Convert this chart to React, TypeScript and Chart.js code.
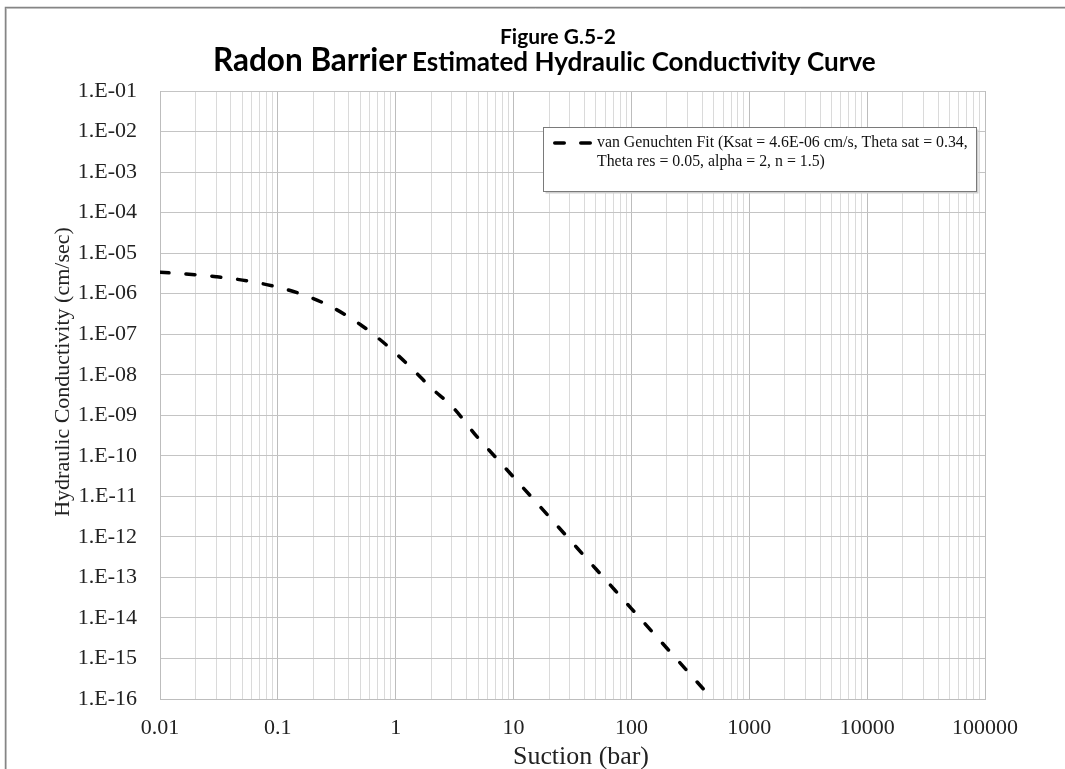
import React, { useEffect, useRef } from "react";
import { Chart, registerables } from "chart.js";

Chart.register(...registerables);

// Suction (bar) and hydraulic conductivity (cm/sec)
const suction = [0.01, 0.02, 0.03, 0.05, 0.1, 0.15, 0.2, 0.3, 0.5, 0.7, 1, 1.5, 2, 3, 5, 7, 10, 20, 50, 100, 200, 500];
const conductivity = [
  3.39e-6, 2.94e-6, 2.62e-6, 2.16e-6, 1.45e-6, 1.03e-6, 7.57e-7, 4.36e-7, 1.74e-7, 8.29e-8, 3.39e-8,
  1.1e-8, 4.73e-9, 1.66e-9, 2.74e-10, 9.36e-11, 2.97e-11, 3.16e-12, 1.61e-13, 1.7e-14, 1.79e-15, 9.09e-17,
];

const xMajorTicks = [0.01, 0.1, 1, 10, 100, 1000, 10000, 100000];
const xTickLabels = ["0.01", "0.1", "1", "10", "100", "1000", "10000", "100000"];
const yMajorTicks = [1e-1, 1e-2, 1e-3, 1e-4, 1e-5, 1e-6, 1e-7, 1e-8, 1e-9, 1e-10, 1e-11, 1e-12, 1e-13, 1e-14, 1e-15, 1e-16];
const yTickLabels = [
  "1.E-01", "1.E-02", "1.E-03", "1.E-04", "1.E-05", "1.E-06", "1.E-07", "1.E-08",
  "1.E-09", "1.E-10", "1.E-11", "1.E-12", "1.E-13", "1.E-14", "1.E-15", "1.E-16",
];

const titleLine1 = "Figure G.5-2";
const titleBold = "Radon Barrier";
const titleRest = "Estimated Hydraulic Conductivity Curve";
const xAxisTitle = "Suction (bar)";
const yAxisTitle = "Hydraulic Conductivity (cm/sec)";
const seriesLabel = "van Genuchten Fit (Ksat = 4.6E-06 cm/s, Theta sat = 0.34, Theta res = 0.05, alpha = 2, n = 1.5)";
const legendLines = ["van Genuchten Fit (Ksat = 4.6E-06 cm/s, Theta sat = 0.34,", "Theta res = 0.05, alpha = 2, n = 1.5)"];

const SERIF = '"Liberation Serif", "Times New Roman", serif';
const SANS = 'Lato, "Open Sans", sans-serif';

const sameLog = (a: number, b: number) => Math.abs(Math.log10(a) - Math.log10(b)) < 1e-6;

// minor grid positions 1..9 per decade
const xAllTicks: number[] = [];
for (let d = 0; d < xMajorTicks.length - 1; d++) {
  for (let k = 1; k <= 9; k++) xAllTicks.push(xMajorTicks[d] * k);
}
xAllTicks.push(xMajorTicks[xMajorTicks.length - 1]);

function fit(ctx: CanvasRenderingContext2D, text: string, weight: string, family: string, target: number) {
  ctx.font = `${weight} 100px ${family}`;
  return (100 * target) / ctx.measureText(text).width;
}

const decorPlugin = {
  id: "decor",
  beforeDraw(chart: any) {
    const { ctx, width, height } = chart;
    ctx.save();
    ctx.fillStyle = "#ffffff";
    ctx.fillRect(0, 0, width, height);
    ctx.restore();
  },
  afterDraw(chart: any) {
    const ctx: CanvasRenderingContext2D = chart.ctx;
    const W = chart.width;
    const H = chart.height;
    ctx.save();
    // outer frame
    ctx.strokeStyle = "#d4d4d4";
    ctx.lineWidth = 1;
    ctx.beginPath();
    ctx.moveTo(6.5, H);
    ctx.lineTo(6.5, 8.5);
    ctx.lineTo(W, 8.5);
    ctx.stroke();
    ctx.strokeStyle = "#858585";
    ctx.lineWidth = 1.5;
    ctx.beginPath();
    ctx.moveTo(5.5, H);
    ctx.lineTo(5.5, 7.5);
    ctx.lineTo(W, 7.5);
    ctx.stroke();

    // titles
    ctx.fillStyle = "#000";
    ctx.textBaseline = "alphabetic";
    ctx.textAlign = "center";
    const s1 = fit(ctx, titleLine1, "bold", SANS, 116);
    ctx.font = `bold ${s1}px ${SANS}`;
    ctx.fillText(titleLine1, 558, 44);
    ctx.textAlign = "left";
    const s2 = fit(ctx, titleBold, "bold", SANS, 194);
    ctx.font = `bold ${s2}px ${SANS}`;
    ctx.fillText(titleBold, 213, 71);
    const s3 = fit(ctx, titleRest, "bold", SANS, 464);
    ctx.font = `bold ${s3}px ${SANS}`;
    ctx.fillText(titleRest, 412, 71);

    // axis titles
    ctx.fillStyle = "#222";
    ctx.textBaseline = "middle";
    ctx.textAlign = "center";
    const sx = fit(ctx, xAxisTitle, "normal", SERIF, 136);
    ctx.font = `normal ${sx}px ${SERIF}`;
    ctx.fillText(xAxisTitle, 581, 757);
    ctx.save();
    ctx.translate(63, 372);
    ctx.rotate(-Math.PI / 2);
    ctx.font = `normal 22px ${SERIF}`;
    ctx.fillText(yAxisTitle, 0, 0);
    ctx.restore();

    // legend box
    const bx = 543.5, by = 127.5, bw = 433, bh = 64;
    ctx.fillStyle = "#cfcfcf";
    ctx.fillRect(bx + 2, by + 2, bw, bh);
    ctx.fillStyle = "#fff";
    ctx.fillRect(bx, by, bw, bh);
    ctx.strokeStyle = "#7a7a7a";
    ctx.lineWidth = 1;
    ctx.strokeRect(bx, by, bw, bh);
    ctx.save();
    ctx.strokeStyle = "#000";
    ctx.lineWidth = 3.5;
    ctx.lineCap = "round";
    ctx.setLineDash([9.5, 16.5]);
    ctx.beginPath();
    ctx.moveTo(554.75, 143);
    ctx.lineTo(590.25, 143);
    ctx.stroke();
    ctx.restore();
    ctx.fillStyle = "#111";
    ctx.textAlign = "left";
    ctx.textBaseline = "middle";
    const sl = fit(ctx, legendLines[0], "normal", SERIF, 371);
    ctx.font = `normal ${sl}px ${SERIF}`;
    ctx.fillText(legendLines[0], 597, 143);
    ctx.fillText(legendLines[1], 597, 162);
    ctx.restore();
  },
};

export default function App() {
  const ref = useRef<HTMLCanvasElement>(null);
  useEffect(() => {
    const canvas = ref.current!;
    const chart = new Chart(canvas, {
      type: "line",
      data: {
        datasets: [
          {
            label: seriesLabel,
            data: suction.map((x, i) => ({ x, y: conductivity[i] })),
            borderColor: "#000",
            borderWidth: 3.5,
            borderDash: [9, 17],
            borderCapStyle: "round",
            pointRadius: 0,
            fill: false,
            cubicInterpolationMode: "monotone",
          },
        ],
      },
      options: {
        responsive: false,
        animation: false,
        devicePixelRatio: 1,
        layout: { padding: { top: 91, right: 80, left: 0, bottom: 0 } },
        plugins: { legend: { display: false }, title: { display: false }, tooltip: { enabled: false } },
        scales: {
          x: {
            type: "logarithmic",
            min: 0.01,
            max: 100000,
            afterBuildTicks: (s: any) => {
              s.ticks = xAllTicks.map((v) => ({ value: v }));
            },
            afterFit: (s: any) => {
              s.height = 70;
            },
            ticks: {
              autoSkip: false,
              maxRotation: 0,
              minRotation: 0,
              padding: 16,
              color: "#222",
              font: { family: SERIF, size: 22 },
              callback: (v: any) => {
                const i = xMajorTicks.findIndex((m) => sameLog(m, Number(v)));
                return i >= 0 ? xTickLabels[i] : "";
              },
            },
            grid: {
              drawTicks: false,
              lineWidth: 1,
              color: (c: any) => (c.tick && xMajorTicks.some((m) => sameLog(m, c.tick.value)) ? "#bdbdbd" : "#dadada"),
            },
            border: { display: true, color: "#bdbdbd", width: 1 },
          },
          y: {
            type: "logarithmic",
            min: 1e-16,
            max: 1e-1,
            afterBuildTicks: (s: any) => {
              s.ticks = yMajorTicks.map((v) => ({ value: v }));
            },
            afterFit: (s: any) => {
              s.width = 160;
            },
            ticks: {
              autoSkip: false,
              padding: 23,
              color: "#222",
              font: { family: SERIF, size: 22 },
              callback: (v: any) => {
                const i = yMajorTicks.findIndex((m) => sameLog(m, Number(v)));
                return i >= 0 ? yTickLabels[i] : "";
              },
            },
            grid: { drawTicks: false, lineWidth: 1, color: "#c4c4c4" },
            border: { display: true, color: "#bdbdbd", width: 1 },
          },
        },
      },
      plugins: [decorPlugin],
    } as any);
    return () => chart.destroy();
  }, []);
  return (
    <div style={{ position: "absolute", left: 0, top: 0, width: 1065, height: 769, overflow: "hidden" }}>
      <canvas ref={ref} width={1065} height={769} style={{ display: "block" }} />
    </div>
  );
}
